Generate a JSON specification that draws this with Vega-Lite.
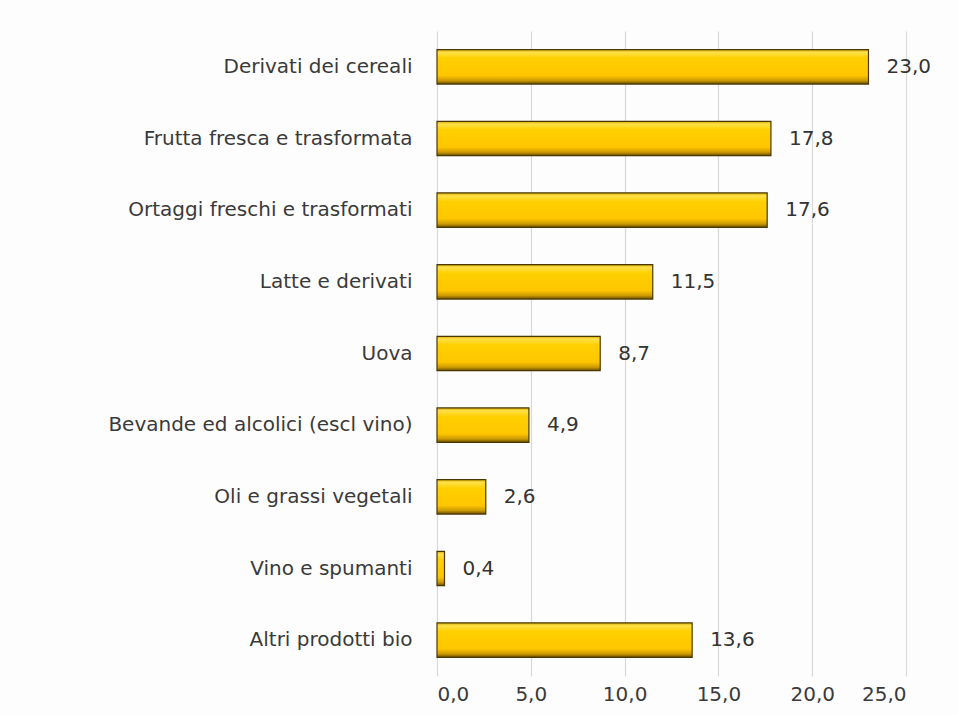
{
  "$schema": "https://vega.github.io/schema/vega-lite/v6.json",
  "autosize": "none",
  "width": 469,
  "height": 645,
  "padding": {"left": 437, "top": 31, "right": 52, "bottom": 39},
  "background": "#fdfdfd",
  "data": {
    "values": [
      {"categoria": "Derivati dei cereali", "valore": 23.0},
      {"categoria": "Frutta fresca e trasformata", "valore": 17.8},
      {"categoria": "Ortaggi freschi e trasformati", "valore": 17.6},
      {"categoria": "Latte e derivati", "valore": 11.5},
      {"categoria": "Uova ", "valore": 8.7},
      {"categoria": "Bevande ed alcolici (escl vino)", "valore": 4.9},
      {"categoria": "Oli e grassi vegetali", "valore": 2.6},
      {"categoria": "Vino e spumanti", "valore": 0.4},
      {"categoria": "Altri prodotti bio", "valore": 13.6}
    ]
  },
  "encoding": {
    "y": {
      "field": "categoria",
      "type": "nominal",
      "sort": null,
      "title": null,
      "scale": {"paddingInner": 0.52, "paddingOuter": 0.26},
      "axis": {
        "domain": false,
        "ticks": false,
        "labelPadding": 25,
        "labelFont": "DejaVu Sans",
        "labelFontSize": 20,
        "labelColor": "#3a3a3a",
        "labelLimit": 500
      }
    },
    "x": {
      "field": "valore",
      "type": "quantitative",
      "title": null,
      "scale": {"domain": [0, 25], "nice": false},
      "axis": {
        "values": [0, 5, 10, 15, 20, 25],
        "format": ".1f",
        "domain": false,
        "ticks": false,
        "grid": true,
        "gridColor": "#d9d9d9",
        "gridWidth": 1.2,
        "labelPadding": 8,
        "labelFont": "DejaVu Sans",
        "labelFontSize": 20,
        "labelColor": "#3a3a3a"
      }
    }
  },
  "layer": [
    {
      "mark": {
        "type": "bar",
        "stroke": "#4a3800",
        "strokeWidth": 1.2,
        "color": {
          "gradient": "linear",
          "x1": 0, "y1": 0, "x2": 0, "y2": 1,
          "stops": [
            {"offset": 0, "color": "#d9a800"},
            {"offset": 0.08, "color": "#ffe14a"},
            {"offset": 0.25, "color": "#ffd000"},
            {"offset": 0.75, "color": "#ffc600"},
            {"offset": 0.9, "color": "#cc9a00"},
            {"offset": 1, "color": "#664c00"}
          ]
        }
      }
    },
    {
      "mark": {
        "type": "text",
        "align": "left",
        "baseline": "middle",
        "dx": 18,
        "font": "DejaVu Sans",
        "fontSize": 20,
        "color": "#333333"
      },
      "encoding": {
        "text": {"field": "valore", "type": "quantitative", "format": ".1f"}
      }
    }
  ],
  "config": {
    "view": {"stroke": null},
    "locale": {
      "number": {
        "decimal": ",",
        "thousands": ".",
        "grouping": [3],
        "currency": ["", " €"]
      }
    }
  }
}
